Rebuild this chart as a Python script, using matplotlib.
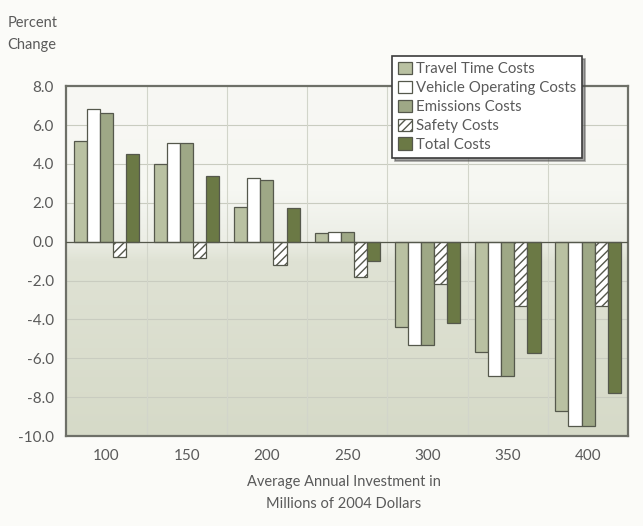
import numpy as np
import matplotlib.pyplot as plt
from matplotlib.colors import LinearSegmentedColormap

# ── Data (percent change by investment level) ─────────────────────────────────
investment = ["100", "150", "200", "250", "300", "350", "400"]
travel_time = [5.2, 4.0, 1.8, 0.45, -4.4, -5.7, -8.7]
vehicle_op  = [6.85, 5.1, 3.3, 0.5, -5.3, -6.9, -9.5]
emissions   = [6.6, 5.1, 3.2, 0.5, -5.3, -6.9, -9.5]
safety      = [-0.8, -0.85, -1.2, -1.8, -2.2, -3.3, -3.3]
total       = [4.5, 3.4, 1.75, -1.0, -4.2, -5.75, -7.8]

series_names = ["Travel Time Costs", "Vehicle Operating Costs",
                "Emissions Costs", "Safety Costs", "Total Costs"]
series_vals = [travel_time, vehicle_op, emissions, safety, total]
colors  = ["#b9c1a2", "#ffffff", "#9ea886", "#ffffff", "#6b7945"]
hatches = [None, None, None, "////", None]

TEXT = "#5a5a5a"
plt.rcParams["font.family"] = ["Lato", "DejaVu Sans"]
plt.rcParams["hatch.color"] = "#8a8f80"
plt.rcParams["hatch.linewidth"] = 1.0

fig = plt.figure(figsize=(6.43, 5.26), dpi=100, facecolor="#fbfbf8")
ax = fig.add_axes([0.103, 0.171, 0.874, 0.665])

# background gradient: light above zero, grey-green below
cmap = LinearSegmentedColormap.from_list(
    "bg", [(0.0, "#d6dac8"), (0.5, "#dfe2d4"), (0.56, "#eceee6"),
           (0.7, "#f6f7f2"), (1.0, "#f8f8f4")])
grad = np.linspace(0, 1, 256).reshape(-1, 1)
ax.imshow(grad, cmap=cmap, origin="lower", aspect="auto",
          extent=[-0.5, len(investment) - 0.5, -10, 8], zorder=0)

x = np.arange(len(investment))
w = 0.163
for i, (name, vals) in enumerate(zip(series_names, series_vals)):
    off = (i - 2) * w
    ax.bar(x + off, vals, width=w, color=colors[i], edgecolor="#55584c",
           linewidth=0.9, hatch=hatches[i], label=name, zorder=3)

ax.set_xlim(-0.5, len(investment) - 0.5)
ax.set_ylim(-10, 8)
ax.set_yticks(np.arange(-10, 8.1, 2))
ax.set_yticklabels([f"{v:.1f}" for v in np.arange(-10, 8.1, 2)])
ax.set_xticks(x)
ax.set_xticklabels(investment)
ax.tick_params(axis="y", length=0, labelsize=11, colors=TEXT, pad=9)
ax.tick_params(axis="x", length=0, labelsize=11, colors=TEXT, pad=9)

for y in np.arange(-8, 8, 2):
    ax.axhline(y, color="#c9ccc0", linewidth=0.8, zorder=1)
for xv in np.arange(0.5, len(investment) - 0.5, 1):
    ax.axvline(xv, color="#d2d5ca", linewidth=0.8, zorder=1)
ax.axhline(0, color="#55584c", linewidth=0.9, zorder=4)

for s in ax.spines.values():
    s.set_color("#6e7068")
    s.set_linewidth(1.6)

fig.text(0.012, 0.902, "Percent\nChange", fontsize=10.5, color=TEXT,
         ha="left", va="bottom", linespacing=1.7)
fig.text(0.535, 0.028, "Average Annual Investment in\nMillions of 2004 Dollars",
         fontsize=10.5, color=TEXT, ha="center", va="bottom", linespacing=1.75)

leg = fig.legend(loc="upper left", bbox_to_anchor=(0.598, 0.908),
                 fontsize=10.8, frameon=True, shadow=True, fancybox=False,
                 handlelength=0.9, handleheight=0.9, handletextpad=0.3,
                 labelspacing=0.3, borderpad=0.4, labelcolor=TEXT)
leg.get_frame().set_edgecolor("#3c3c3c")
leg.get_frame().set_linewidth(1.2)
leg.get_frame().set_facecolor("#ffffff")

fig.savefig("out.png", dpi=100, facecolor=fig.get_facecolor())
